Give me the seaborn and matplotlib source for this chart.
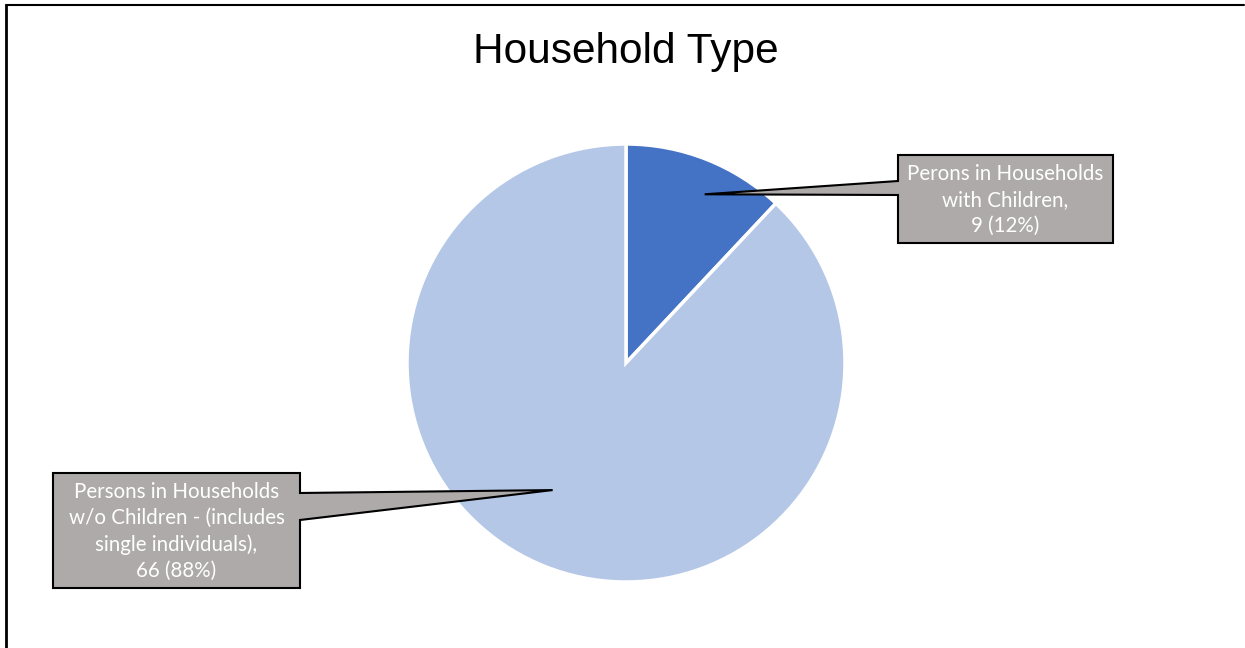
import numpy as np
import matplotlib
matplotlib.use("Agg")
import matplotlib.pyplot as plt
from matplotlib.patches import Polygon
from matplotlib.lines import Line2D
import seaborn as sns

# chart data
categories = ["Perons in Households\nwith Children,", "Persons in Households\nw/o Children - (includes\nsingle individuals),"]
counts = [9, 66]
slice_colors = ["#4472C4", "#B4C7E7"]

sns.set_theme(style="white")
plt.rcParams["font.family"] = ["Liberation Sans", "DejaVu Sans"]

W, H = 1245, 648
fig = plt.figure(figsize=(W / 100, H / 100), dpi=100)
ax = fig.add_axes([0, 0, 1, 1])

cx, cy, R = 626, H - 363, 219
ax.pie(counts, colors=slice_colors, startangle=90, counterclock=False,
       center=(cx, cy), radius=R,
       wedgeprops=dict(edgecolor="white", linewidth=2.5))
ax.set_xlim(0, W)
ax.set_ylim(0, H)
ax.set_aspect("equal")
ax.axis("off")

total = sum(counts)
pcts = [round(c / total * 100) for c in counts]
labels = [f"{cat}\n{c} ({p}%)" for cat, c, p in zip(categories, counts, pcts)]

# callout layout: box (left, top, right, bottom) in pixels from top-left,
# pointer base on box side, tip angle (deg) / radius fraction in the pie
callouts = [
    dict(box=(898, 155, 1113, 243), side="left", base=(181, 195), ang=65, rf=0.85),
    dict(box=(53, 473, 300, 588), side="right", base=(493, 520), ang=240, rf=0.67),
]

for lab, co in zip(labels, callouts):
    l, t, r, b = co["box"]
    tx = cx + co["rf"] * R * np.cos(np.radians(co["ang"]))
    ty = cy + co["rf"] * R * np.sin(np.radians(co["ang"]))
    b0, b1 = co["base"]
    if co["side"] == "left":
        pts = [(l, t), (r, t), (r, b), (l, b), (l, b1), None, (l, b0)]
    else:
        pts = [(l, t), (r, t), (r, b0), None, (r, b1), (r, b), (l, b)]
    verts = []
    for p in pts:
        if p is None:
            verts.append((tx, ty))
        else:
            verts.append((p[0], H - p[1]))
    ax.add_patch(Polygon(verts, closed=True, facecolor="#AEAAAA",
                         edgecolor="black", linewidth=1.5, joinstyle="miter", zorder=5))
    ax.text((l + r) / 2, H - (t + b) / 2 - 1, lab, ha="center", va="center",
            color="white", fontsize=14.8, family=["Lato", "DejaVu Sans"],
            linespacing=1.38, zorder=6)

ax.text(cx, H - 52, "Household Type", ha="center", va="center",
        fontsize=30.5, color="black")

# outer frame (left and top edges)
fig.add_artist(Line2D([6 / W, 6 / W], [0, 1 - 5 / H], color="black", lw=2,
                      transform=fig.transFigure))
fig.add_artist(Line2D([6 / W, 1244 / W], [1 - 5 / H, 1 - 5 / H], color="black", lw=1.5,
                      transform=fig.transFigure))

fig.savefig("out.png", dpi=100, facecolor="white")
